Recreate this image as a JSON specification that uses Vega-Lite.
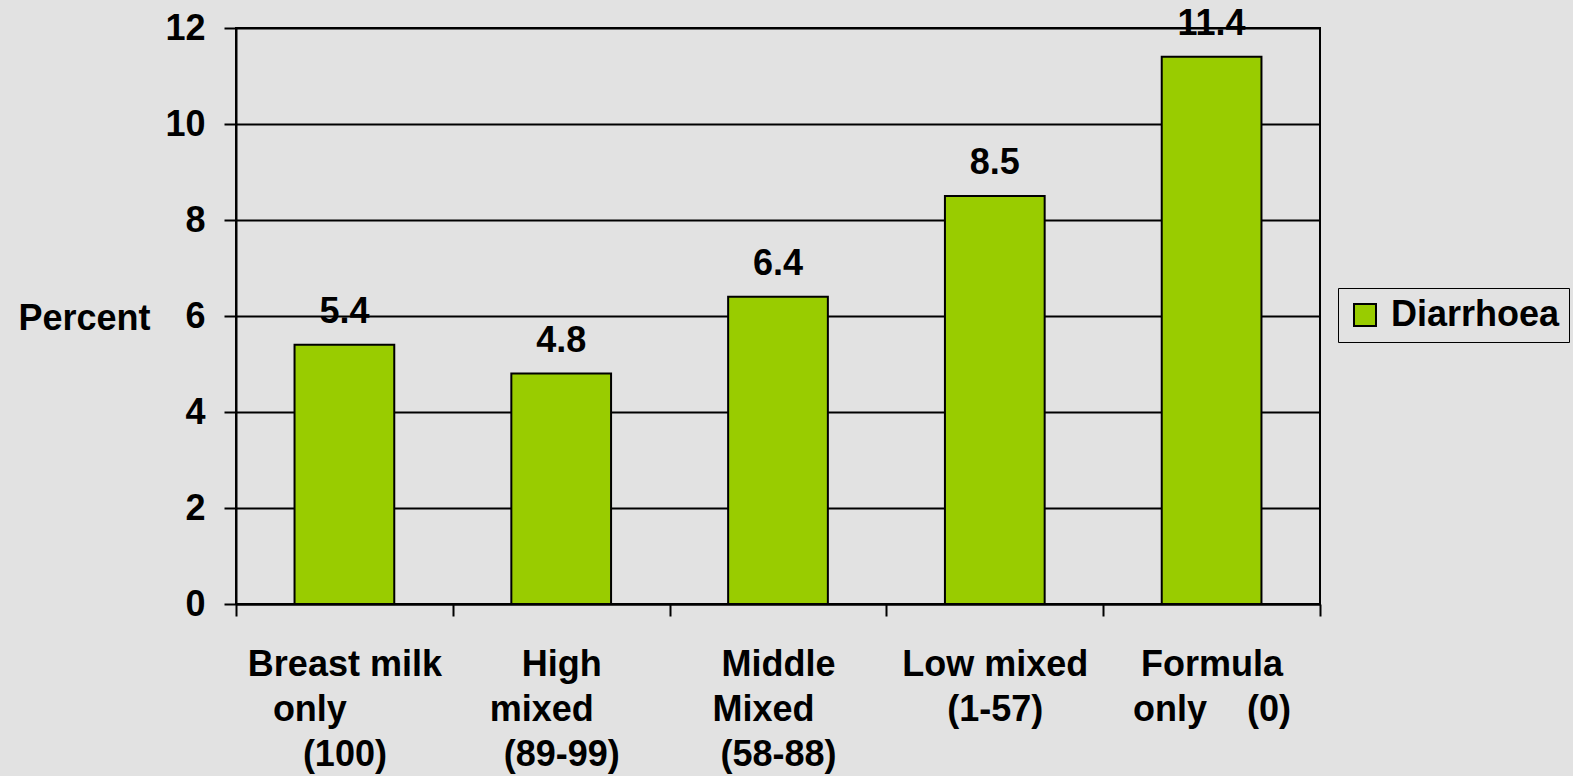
{
  "$schema": "https://vega.github.io/schema/vega-lite/v6.json",
  "width": 1084,
  "height": 576,
  "autosize": {"type": "none"},
  "padding": {"left": 236, "top": 28, "right": 253, "bottom": 172},
  "background": "#e2e2e2",
  "config": {
    "font": "Liberation Sans",
    "view": {"stroke": "#000000", "strokeWidth": 2}
  },
  "data": {
    "values": [
      {"group": "Breast milk|only\u00a0\u00a0\u00a0\u00a0\u00a0\u00a0\u00a0\u200b|(100)", "series": "Diarrhoea", "percent": 5.4},
      {"group": "High|mixed\u00a0\u00a0\u00a0\u00a0\u200b|(89-99)", "series": "Diarrhoea", "percent": 4.8},
      {"group": "Middle|Mixed\u00a0\u00a0\u00a0\u200b|(58-88)", "series": "Diarrhoea", "percent": 6.4},
      {"group": "Low mixed|(1-57)", "series": "Diarrhoea", "percent": 8.5},
      {"group": "Formula|only\u00a0\u00a0\u00a0\u00a0(0)", "series": "Diarrhoea", "percent": 11.4}
    ]
  },
  "encoding": {
    "x": {
      "field": "group",
      "type": "nominal",
      "sort": null,
      "scale": {"paddingInner": 0, "paddingOuter": 0},
      "axis": {
        "title": null,
        "labelAngle": 0,
        "labelExpr": "split(datum.label, '|')",
        "labelFontSize": 36,
        "labelFontWeight": "bold",
        "labelColor": "#000000",
        "labelLineHeight": 45,
        "labelPadding": 31,
        "labelBaseline": "top",
        "labelLimit": 400,
        "tickBand": "extent",
        "tickSize": 12,
        "tickColor": "#000000",
        "tickWidth": 2,
        "domainColor": "#000000",
        "domainWidth": 2,
        "grid": false
      }
    },
    "y": {
      "field": "percent",
      "type": "quantitative",
      "scale": {"domain": [0, 12], "nice": false},
      "axis": {
        "values": [0, 2, 4, 6, 8, 10, 12],
        "title": "Percent",
        "titleAngle": 0,
        "titleAlign": "left",
        "titleBaseline": "middle",
        "titleX": -218,
        "titleY": 290,
        "titleFontSize": 36,
        "titleFontWeight": "bold",
        "titleColor": "#000000",
        "labelFontSize": 36,
        "labelFontWeight": "bold",
        "labelColor": "#000000",
        "labelPadding": 19,
        "tickSize": 12,
        "tickColor": "#000000",
        "tickWidth": 2,
        "domainColor": "#000000",
        "domainWidth": 2,
        "grid": true,
        "gridColor": "#000000",
        "gridWidth": 2,
        "gridOpacity": 1
      }
    }
  },
  "layer": [
    {
      "mark": {"type": "bar", "stroke": "#000000", "strokeWidth": 2, "width": {"band": 0.46}},
      "encoding": {
        "color": {
          "field": "series",
          "type": "nominal",
          "scale": {"range": ["#99cc00"]},
          "legend": {
            "title": null,
            "orient": "none",
            "legendX": 1102,
            "legendY": 260,
            "strokeColor": "#000000",
            "padding": 9,
            "symbolType": "square",
            "symbolSize": 484,
            "symbolStrokeColor": "#000000",
            "symbolStrokeWidth": 2,
            "symbolOpacity": 1,
            "labelFontSize": 36,
            "labelFontWeight": "bold",
            "labelColor": "#000000",
            "labelOffset": 8,
            "labelLimit": 400
          }
        }
      }
    },
    {
      "mark": {"type": "text", "fontSize": 36, "fontWeight": "bold", "baseline": "alphabetic", "dy": -22, "color": "#000000"},
      "encoding": {
        "text": {"field": "percent", "type": "quantitative", "format": ".1f"}
      }
    }
  ]
}
